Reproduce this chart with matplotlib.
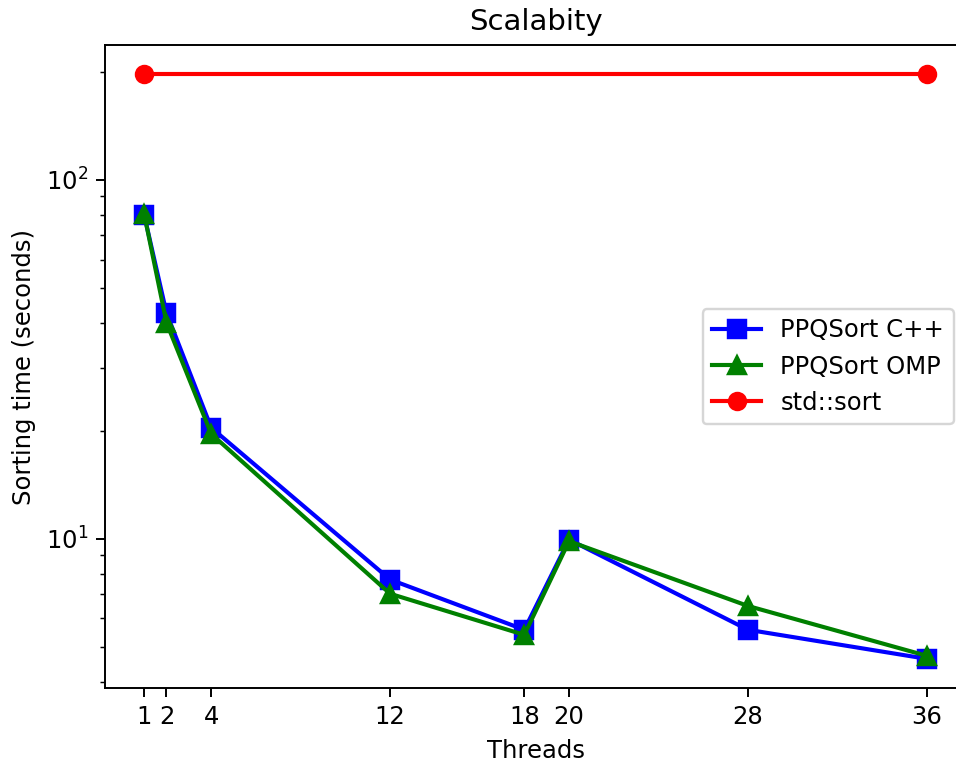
import matplotlib
matplotlib.use('Agg')
import matplotlib.pyplot as plt

# thread counts and sorting times (seconds)
threads = [1, 2, 4, 12, 18, 20, 28, 36]
ppq_cpp = [80, 42.6, 20.4, 7.7, 5.58, 9.95, 5.58, 4.63]
ppq_omp = [80.5, 40, 19.6, 7.03, 5.4, 9.85, 6.5, 4.72]
# std::sort only measured single-threaded, drawn as a flat reference line
std_threads = [1, 36]
std_sort = [197, 197]

fig, ax = plt.subplots(figsize=(956/175, 762/175), dpi=175)
# original is cropped on the right, so the axes run slightly past the edge
fig.subplots_adjust(left=0.1098, right=1.0105, top=0.941, bottom=0.097)

ax.plot(threads, ppq_cpp, color='blue', marker='s', linewidth=1.7, markersize=7, label='PPQSort C++')
ax.plot(threads, ppq_omp, color='green', marker='^', linewidth=1.7, markersize=7, label='PPQSort OMP')
ax.plot(std_threads, std_sort, color='red', marker='o', linewidth=1.7, markersize=7, label='std::sort')

ax.set_yscale('log')
ax.set_xticks(threads)
ax.set_xticklabels([str(t) for t in threads])
ax.set_xlabel('Threads')
ax.set_ylabel('Sorting time (seconds)')
ax.set_title('Scalabity')
ax.legend(loc='center right')

fig.savefig('out.png', dpi=175)
